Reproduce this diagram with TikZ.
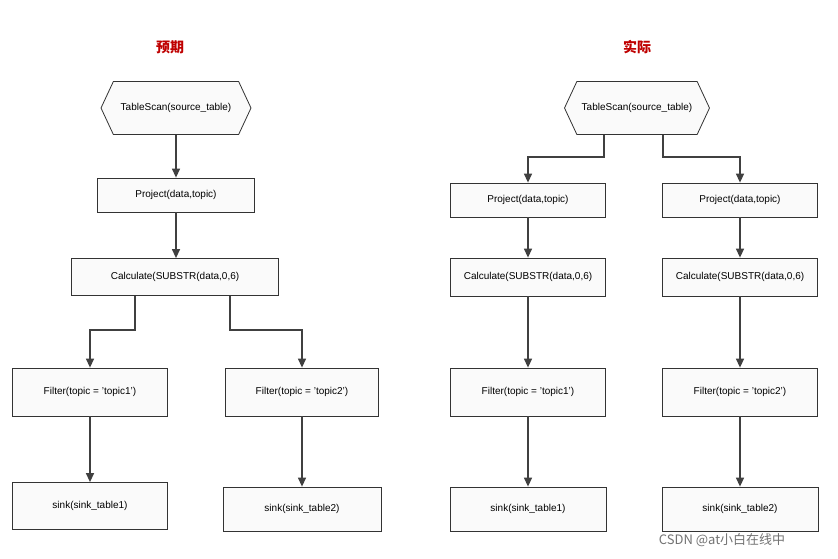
\documentclass[tikz,border=0pt]{standalone}
\usepackage{fontspec}
\setmainfont{Liberation Sans}
\newfontfamily\cjk{Noto Sans CJK SC}
\usetikzlibrary{shapes.symbols,arrows.meta}

\begin{document}
\begin{tikzpicture}[x=1pt,y=-1pt,
  box/.style={draw=black!80,fill=black!2,line width=0.8pt,font=\fontsize{10}{12}\selectfont},
  hexa/.style={box,shape=signal,signal to=west and east,signal pointer angle=130,minimum width=150pt,minimum height=53pt,inner sep=0pt},
  arr/.style={draw=black!75,line width=1.3pt,-{Triangle[length=9pt,width=8pt]}},
  title/.style={text=red!75!black,font=\cjk\bfseries\fontsize{14}{16}\selectfont}]
\path[fill=white] (0,0) rectangle (838,558);

% left: expected
\node[title] (tl) at (170,47) {预期};
\node[hexa] (scanL) at (176,108) {TableScan(source\_table)};
\node[box,minimum width=157pt,minimum height=34pt] (projL) at (176,195) {Project(data,topic)};
\node[box,minimum width=207pt,minimum height=37pt] (calcL) at (175,277) {Calculate(SUBSTR(data,0,6)};
\node[box,minimum width=155pt,minimum height=48pt] (filtL1) at (90,392) {Filter(topic = 'topic1')};
\node[box,minimum width=153pt,minimum height=48pt] (filtL2) at (302,392) {Filter(topic = 'topic2')};
\node[box,minimum width=155pt,minimum height=47pt] (sinkL1) at (90,506) {sink(sink\_table1)};
\node[box,minimum width=158pt,minimum height=44pt] (sinkL2) at (302,509) {sink(sink\_table2)};

\draw[arr] (scanL.south -| 176,0) -- (projL.north -| 176,0);
\draw[arr] (projL.south -| 176,0) -- (calcL.north -| 176,0);
\draw[arr] (calcL.south -| 135,0) |- (90,330) -- (filtL1);
\draw[arr] (calcL.south -| 230,0) |- (302,330) -- (filtL2);
\draw[arr] (filtL1) -- (sinkL1);
\draw[arr] (filtL2) -- (sinkL2);

% right: actual
\node[title] (tr) at (637,47) {实际};
\node[hexa,minimum width=145pt] (scanR) at (637,108) {TableScan(source\_table)};
\foreach \n/\x/\t in {1/528/topic1,2/740/topic2}{
  \node[box,minimum width=155pt,minimum height=34pt] (projR\n) at (\x,200) {Project(data,topic)};
  \node[box,minimum width=155pt,minimum height=38pt] (calcR\n) at (\x,277) {Calculate(SUBSTR(data,0,6)};
  \node[box,minimum width=155pt,minimum height=48pt] (filtR\n) at (\x,392) {Filter(topic = '\t')};
  \node[box,minimum width=156pt,minimum height=44pt] (sinkR\n) at (\x,509) {sink(sink\_table\n)};
  \draw[arr] (projR\n) -- (calcR\n);
  \draw[arr] (calcR\n) -- (filtR\n);
  \draw[arr] (filtR\n) -- (sinkR\n);
}
\draw[arr] (scanR.south -| 604,0) |- (528,157) -- (projR1);
\draw[arr] (scanR.south -| 663,0) |- (740,157) -- (projR2);

\node[text=black!55,font=\cjk\fontsize{13}{15}\selectfont] (mark) at (722,540) {CSDN @at小白在线中};
\end{tikzpicture}
\end{document}
